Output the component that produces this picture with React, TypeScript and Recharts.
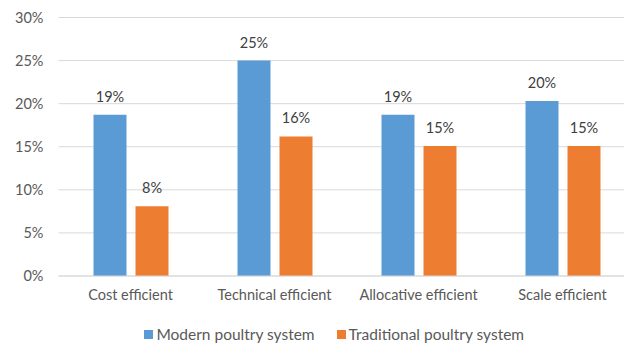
import React from 'react';
import { BarChart, Bar, XAxis, YAxis, CartesianGrid, Legend, LabelList } from 'recharts';

const categories = ['Cost efficient', 'Technical efficient', 'Allocative efficient', 'Scale efficient'];
const modern = [18.7, 25.0, 18.7, 20.3];
const traditional = [8.1, 16.2, 15.1, 15.1];
const yTicks = [0, 5, 10, 15, 20, 25, 30];

const data = categories.map((name, i) => ({ name, modern: modern[i], traditional: traditional[i] }));

const FONT = 'Lato, "Open Sans", sans-serif';
const FS = 14.5;
const BLUE = '#5b9bd5';
const ORANGE = '#ed7d31';

const legendItems = [
  { label: 'Modern poultry system', color: BLUE },
  { label: 'Traditional poultry system', color: ORANGE },
];

const renderLegend = () => (
  <div style={{ display: 'flex', justifyContent: 'center', fontFamily: FONT, fontSize: 15.5, color: '#595959', paddingLeft: 34, paddingTop: 10 }}>
    {legendItems.map((it, i) => (
      <div key={it.label} style={{ display: 'flex', alignItems: 'center', marginLeft: i ? 22 : 0 }}>
        <span style={{ width: 9, height: 9, background: it.color, display: 'inline-block', marginRight: 3 }} />
        <span>{it.label}</span>
      </div>
    ))}
  </div>
);

export default function App() {
  return (
    <div style={{ position: 'absolute', left: 0, top: 0, width: 624, height: 345, overflow: 'hidden', background: '#fff' }}>
      <BarChart
        width={640}
        height={345}
        data={data}
        margin={{ top: 17.5, right: 5.5, bottom: 0, left: 0 }}
        barCategoryGap={34.5}
        barGap={9}
      >
        <CartesianGrid horizontal vertical={false} stroke="#d9d9d9" />
        <XAxis
          dataKey="name"
          height={39}
          tickLine={false}
          tickSize={0}
          tickMargin={14}
          axisLine={{ stroke: '#d9d9d9' }}
          tick={{ fill: '#595959', fontSize: FS, fontFamily: FONT }}
          interval={0}
        />
        <YAxis
          width={58.5}
          domain={[0, 30]}
          ticks={yTicks}
          tickFormatter={(v) => `${v}%`}
          axisLine={false}
          tickLine={false}
          tickSize={0}
          tickMargin={15}
          tick={{ fill: '#595959', fontSize: FS, fontFamily: FONT }}
        />
        <Legend verticalAlign="bottom" height={30} content={renderLegend} />
        <Bar dataKey="modern" name="Modern poultry system" fill={BLUE} barSize={33} isAnimationActive={false}>
          <LabelList
            dataKey="modern"
            position="top"
            offset={13}
            formatter={(v: number) => `${Math.round(v)}%`}
            style={{ fill: '#404040', fontSize: FS, fontFamily: FONT }}
          />
        </Bar>
        <Bar dataKey="traditional" name="Traditional poultry system" fill={ORANGE} barSize={33} isAnimationActive={false}>
          <LabelList
            dataKey="traditional"
            position="top"
            offset={13}
            formatter={(v: number) => `${Math.round(v)}%`}
            style={{ fill: '#404040', fontSize: FS, fontFamily: FONT }}
          />
        </Bar>
      </BarChart>
    </div>
  );
}
